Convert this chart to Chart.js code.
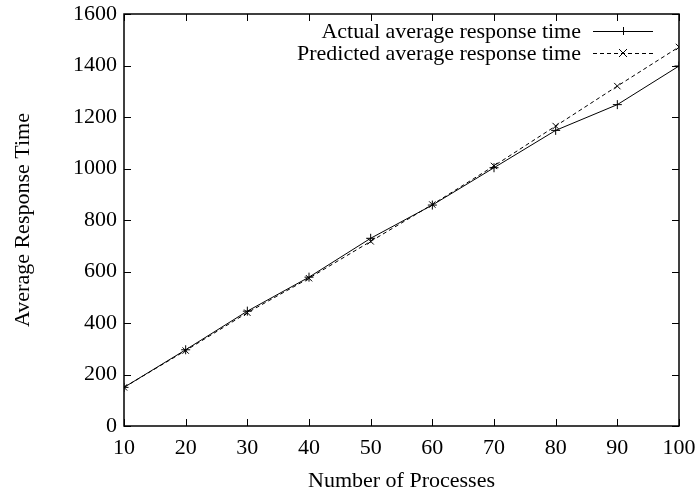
<!DOCTYPE html>
<html>
<head>
<meta charset="utf-8">
<script src="https://cdn.jsdelivr.net/npm/chart.js@4.4.0/dist/chart.umd.min.js"></script>
<style>
html,body{margin:0;padding:0;background:#fff;}
#wrap{width:700px;height:494px;}
</style>
</head>
<body>
<div id="wrap"><canvas id="c" width="700" height="494"></canvas></div>
<script>
const processes = [10, 20, 30, 40, 50, 60, 70, 80, 90, 100];
const actualTimes = [150, 296, 446, 578, 729, 858, 1003, 1148, 1248, 1398];
const predictedTimes = [150, 293, 440, 574, 717, 860, 1010, 1165, 1320, 1472];
const xTicks = [10, 20, 30, 40, 50, 60, 70, 80, 90, 100];
const yTicks = [0, 200, 400, 600, 800, 1000, 1200, 1400, 1600];
const seriesLabels = ['Actual average response time', 'Predicted average response time'];

const FONT = 'Liberation Serif, Times New Roman, serif';
const FS = 22;

const frame = {
  id: 'frame',
  afterDatasetsDraw(chart) {
    const ctx = chart.ctx;
    const a = chart.chartArea;
    const xs = chart.scales.x, ys = chart.scales.y;
    ctx.save();
    ctx.strokeStyle = '#000';
    ctx.lineWidth = 1;
    ctx.beginPath();
    const L = 7;
    xTicks.forEach(v => {
      const p = Math.round(xs.getPixelForValue(v)) + 0.5;
      ctx.moveTo(p, a.bottom); ctx.lineTo(p, a.bottom - L);
      ctx.moveTo(p, a.top); ctx.lineTo(p, a.top + L);
    });
    yTicks.forEach(v => {
      const p = Math.round(ys.getPixelForValue(v)) + 0.5;
      ctx.moveTo(a.left, p); ctx.lineTo(a.left + L, p);
      ctx.moveTo(a.right, p); ctx.lineTo(a.right - L, p);
    });
    ctx.stroke();
    ctx.lineWidth = 1.5;
    ctx.strokeRect(a.left, a.top, a.right - a.left, a.bottom - a.top);
    // legend
    ctx.font = FS + 'px ' + FONT;
    ctx.fillStyle = '#000';
    ctx.textAlign = 'right';
    ctx.textBaseline = 'middle';
    const rows = [31, 53];
    chart.data.datasets.forEach((ds, i) => {
      const y = rows[i];
      ctx.fillText(ds.label, 581, y + 1);
      ctx.beginPath();
      ctx.lineWidth = 1;
      ctx.setLineDash(ds.borderDash || []);
      ctx.moveTo(593, y + 0.5); ctx.lineTo(653, y + 0.5);
      ctx.stroke();
      ctx.setLineDash([]);
      const mx = 623, r = 4;
      ctx.beginPath();
      if (ds.pointStyle === 'cross') {
        ctx.moveTo(mx - r, y + 0.5); ctx.lineTo(mx + r, y + 0.5);
        ctx.moveTo(mx + 0.5, y - r); ctx.lineTo(mx + 0.5, y + r);
      } else {
        ctx.moveTo(mx - r, y - r); ctx.lineTo(mx + r, y + r);
        ctx.moveTo(mx - r, y + r); ctx.lineTo(mx + r, y - r);
      }
      ctx.stroke();
    });
    ctx.restore();
  }
};

new Chart(document.getElementById('c'), {
  type: 'line',
  data: {
    datasets: [
      {
        label: seriesLabels[0],
        data: processes.map((x, i) => ({x: x, y: actualTimes[i]})),
        borderColor: '#000', backgroundColor: '#000',
        borderWidth: 1, pointStyle: 'cross', pointRadius: 4.5,
        pointBorderWidth: 1, pointBorderColor: '#000', tension: 0, fill: false
      },
      {
        label: seriesLabels[1],
        data: processes.map((x, i) => ({x: x, y: predictedTimes[i]})),
        borderColor: '#000', backgroundColor: '#000',
        borderWidth: 1, borderDash: [4, 3], pointStyle: 'crossRot', pointRadius: 4.5,
        pointBorderWidth: 1, pointBorderColor: '#000', tension: 0, fill: false
      }
    ]
  },
  options: {
    responsive: false,
    animation: false,
    layout: {padding: {left: 0, right: 21, top: 14, bottom: 0}},
    plugins: {legend: {display: false}, tooltip: {enabled: false}},
    scales: {
      x: {
        type: 'linear', min: 10, max: 100,
        afterBuildTicks: s => { s.ticks = xTicks.map(v => ({value: v})); },
        afterFit: s => { s.height = 68; s.paddingLeft = 0; s.paddingRight = 0; },
        grid: {display: false, drawTicks: false},
        border: {display: false},
        ticks: {color: '#000', font: {family: FONT, size: FS}, padding: 9, maxRotation: 0, autoSkip: false,
                callback: v => String(v)},
        title: {display: true, text: 'Number of Processes', color: '#000', font: {family: FONT, size: FS}, padding: {top: 4, bottom: 0}}
      },
      y: {
        type: 'linear', min: 0, max: 1600,
        afterBuildTicks: s => { s.ticks = yTicks.map(v => ({value: v})); },
        afterFit: s => { s.width = 124; s.paddingTop = 0; s.paddingBottom = 0; },
        grid: {display: false, drawTicks: false},
        border: {display: false},
        ticks: {color: '#000', font: {family: FONT, size: FS}, padding: 7, autoSkip: false,
                callback: v => String(v)},
        title: {display: true, text: 'Average Response Time', color: '#000', font: {family: FONT, size: FS}, padding: {top: 10, bottom: 10}}
      }
    }
  },
  plugins: [frame]
});
</script>
</body>
</html>
